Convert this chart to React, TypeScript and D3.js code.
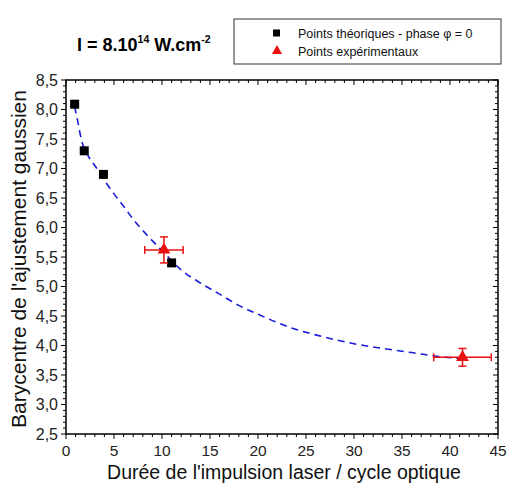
import { useEffect, useRef } from 'react';
import * as d3 from 'd3';

// theoretical points (phase 0)
const theoX = [0.9, 1.9, 3.9, 11.0];
const theoY = [8.09, 7.3, 6.9, 5.4];

// experimental points with error bars
const expX = [10.2, 41.3];
const expY = [5.62, 3.8];
const expXerr = [2.0, 3.0];
const expYerr = [0.22, 0.15];

// dashed fit curve
const fitX = [0.9, 1.2, 1.6, 2.4, 3.0, 4.0, 5.0, 6.0, 7.0, 8.5, 10, 12, 14, 16, 18, 20, 22, 24, 26, 28, 30, 33, 36, 39, 41];
const fitY = [8.05, 7.82, 7.49, 7.19, 7.05, 6.8, 6.57, 6.36, 6.14, 5.86, 5.61, 5.28, 5.06, 4.87, 4.68, 4.53, 4.39, 4.27, 4.18, 4.1, 4.03, 3.95, 3.88, 3.81, 3.78];

const xMajor = d3.range(0, 46, 5);
const yMajor = d3.range(2.5, 8.51, 0.5);

const font = 'Arial, "Liberation Sans", sans-serif';

export default function App() {
  const ref = useRef<SVGSVGElement>(null);

  useEffect(() => {
    const width = 511;
    const height = 488;
    const margin = { top: 80, right: 13, bottom: 54, left: 66 };
    const innerWidth = width - margin.left - margin.right;
    const innerHeight = height - margin.top - margin.bottom;

    const svg = d3.select(ref.current);
    svg.selectAll('*').remove();

    const x = d3.scaleLinear().domain([0, 45]).range([0, innerWidth]);
    const y = d3.scaleLinear().domain([2.5, 8.5]).range([innerHeight, 0]);

    const g = svg.append('g').attr('transform', `translate(${margin.left}, ${margin.top})`);

    // minor ticks
    const xMinor = d3.range(0, 46, 1).filter((v) => v % 5 !== 0);
    const yMinor = d3.range(25, 86, 1).map((v) => v / 10).filter((v) => Math.round(v * 10) % 5 !== 0);

    const tickG = g.append('g').attr('stroke', '#000').attr('stroke-width', 1);
    xMajor.forEach((v) => {
      tickG.append('line').attr('x1', x(v)).attr('x2', x(v)).attr('y1', innerHeight).attr('y2', innerHeight + 5);
      tickG.append('line').attr('x1', x(v)).attr('x2', x(v)).attr('y1', 0).attr('y2', 5);
    });
    xMinor.forEach((v) => {
      tickG.append('line').attr('x1', x(v)).attr('x2', x(v)).attr('y1', innerHeight).attr('y2', innerHeight + 3);
      tickG.append('line').attr('x1', x(v)).attr('x2', x(v)).attr('y1', 0).attr('y2', 3);
    });
    yMajor.forEach((v) => {
      tickG.append('line').attr('x1', -5).attr('x2', 0).attr('y1', y(v)).attr('y2', y(v));
      tickG.append('line').attr('x1', innerWidth - 5).attr('x2', innerWidth).attr('y1', y(v)).attr('y2', y(v));
    });
    yMinor.forEach((v) => {
      tickG.append('line').attr('x1', -3).attr('x2', 0).attr('y1', y(v)).attr('y2', y(v));
      tickG.append('line').attr('x1', innerWidth - 3).attr('x2', innerWidth).attr('y1', y(v)).attr('y2', y(v));
    });

    // frame
    g.append('rect')
      .attr('width', innerWidth)
      .attr('height', innerHeight)
      .attr('fill', 'none')
      .attr('stroke', '#000')
      .attr('stroke-width', 1.5);

    // tick labels
    g.selectAll('.xlab')
      .data(xMajor)
      .join('text')
      .attr('x', (d) => x(d))
      .attr('y', innerHeight + 22)
      .attr('text-anchor', 'middle')
      .attr('font-family', font)
      .attr('font-size', 15.5)
      .attr('fill', '#222')
      .text((d) => String(d));

    g.selectAll('.ylab')
      .data(yMajor)
      .join('text')
      .attr('x', -8)
      .attr('y', (d) => y(d) + 5.5)
      .attr('text-anchor', 'end')
      .attr('font-family', font)
      .attr('font-size', 16)
      .attr('fill', '#222')
      .text((d) => d.toFixed(1).replace('.', ','));

    // fit curve
    const fit = fitX.map((v, i) => [v, fitY[i]] as [number, number]);
    g.append('path')
      .datum(fit)
      .attr('fill', 'none')
      .attr('stroke', '#1a1adb')
      .attr('stroke-width', 1.6)
      .attr('stroke-dasharray', '7,5')
      .attr('d', d3.line<[number, number]>().x((d) => x(d[0])).y((d) => y(d[1])).curve(d3.curveMonotoneX));

    // theoretical squares
    const sq = 9;
    g.selectAll('.sq')
      .data(theoX.map((v, i) => ({ x: v, y: theoY[i] })))
      .join('rect')
      .attr('x', (d) => x(d.x) - sq / 2)
      .attr('y', (d) => y(d.y) - sq / 2)
      .attr('width', sq)
      .attr('height', sq)
      .attr('fill', '#000');

    // experimental error bars + triangles
    const red = '#e81010';
    const exp = expX.map((v, i) => ({ x: v, y: expY[i], ex: expXerr[i], ey: expYerr[i] }));
    const eb = g.append('g').attr('stroke', red).attr('stroke-width', 1.5);
    exp.forEach((d) => {
      const cx = x(d.x);
      const cy = y(d.y);
      eb.append('line').attr('x1', x(d.x - d.ex)).attr('x2', x(d.x + d.ex)).attr('y1', cy).attr('y2', cy);
      eb.append('line').attr('x1', cx).attr('x2', cx).attr('y1', y(d.y - d.ey)).attr('y2', y(d.y + d.ey));
      eb.append('line').attr('x1', x(d.x - d.ex)).attr('x2', x(d.x - d.ex)).attr('y1', cy - 4).attr('y2', cy + 4);
      eb.append('line').attr('x1', x(d.x + d.ex)).attr('x2', x(d.x + d.ex)).attr('y1', cy - 4).attr('y2', cy + 4);
      eb.append('line').attr('x1', cx - 4).attr('x2', cx + 4).attr('y1', y(d.y - d.ey)).attr('y2', y(d.y - d.ey));
      eb.append('line').attr('x1', cx - 4).attr('x2', cx + 4).attr('y1', y(d.y + d.ey)).attr('y2', y(d.y + d.ey));
    });
    const tri = d3.symbol().type(d3.symbolTriangle).size(70);
    g.selectAll('.tri')
      .data(exp)
      .join('path')
      .attr('transform', (d) => `translate(${x(d.x)}, ${y(d.y)})`)
      .attr('d', tri)
      .attr('fill', red);

    // axis titles
    svg.append('text')
      .attr('x', 284)
      .attr('y', 479)
      .attr('text-anchor', 'middle')
      .attr('font-family', font)
      .attr('font-size', 19.5)
      .attr('fill', '#111')
      .text("Durée de l'impulsion laser / cycle optique");

    svg.append('text')
      .attr('transform', `translate(26, 259) rotate(-90)`)
      .attr('text-anchor', 'middle')
      .attr('font-family', font)
      .attr('font-size', 21)
      .attr('fill', '#111')
      .text("Barycentre de l'ajustement gaussien");

    // intensity title
    const title = svg.append('text')
      .attr('x', 77)
      .attr('y', 51)
      .attr('font-family', font)
      .attr('font-size', 18)
      .attr('font-weight', 'bold')
      .attr('fill', '#000');
    title.append('tspan').text('I = 8.10');
    title.append('tspan').attr('font-size', 10.5).attr('dy', -8).text('14');
    title.append('tspan').attr('dy', 8).text(' W.cm');
    title.append('tspan').attr('font-size', 10.5).attr('dy', -8).text('-2');

    // legend
    const lg = svg.append('g');
    lg.append('rect')
      .attr('x', 234)
      .attr('y', 19)
      .attr('width', 267)
      .attr('height', 45)
      .attr('fill', '#fff')
      .attr('stroke', '#333')
      .attr('stroke-width', 1);
    lg.append('rect').attr('x', 273).attr('y', 29.5).attr('width', 7).attr('height', 7).attr('fill', '#000');
    lg.append('path')
      .attr('transform', 'translate(277, 51)')
      .attr('d', d3.symbol().type(d3.symbolTriangle).size(45))
      .attr('fill', red);
    lg.append('text')
      .attr('x', 298)
      .attr('y', 38)
      .attr('font-family', font)
      .attr('font-size', 12.5)
      .attr('fill', '#111')
      .text('Points théoriques - phase φ = 0');
    lg.append('text')
      .attr('x', 298)
      .attr('y', 56)
      .attr('font-family', font)
      .attr('font-size', 12.5)
      .attr('fill', '#111')
      .text('Points expérimentaux');
  }, []);

  return <svg ref={ref} width={511} height={488} style={{ position: 'absolute', left: 0, top: 0, background: '#fff' }} />;
}
